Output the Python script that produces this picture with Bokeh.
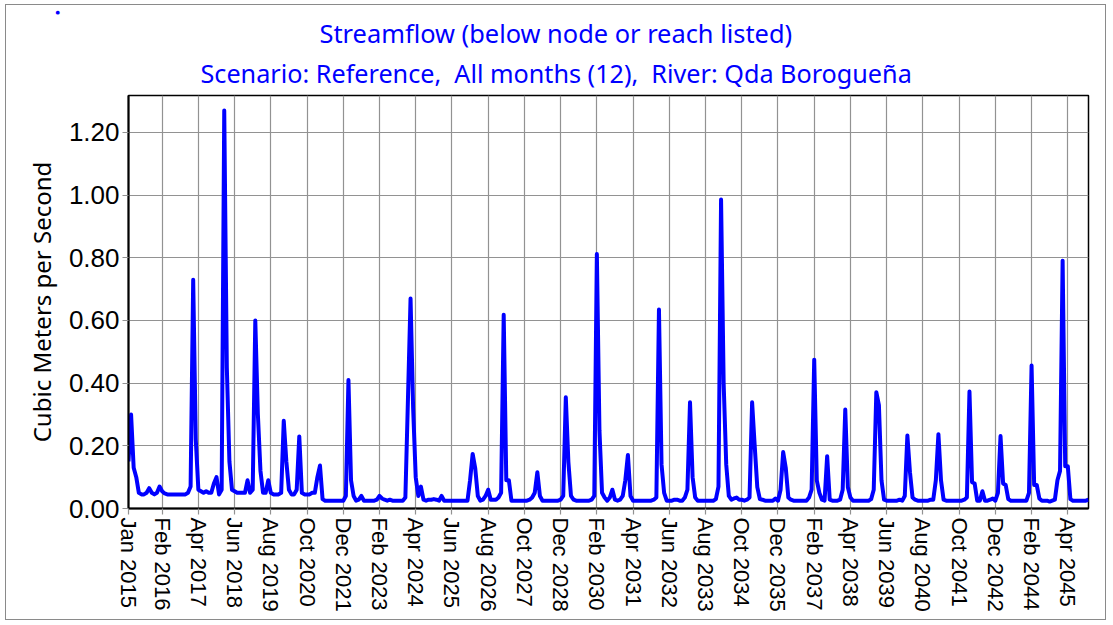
from bokeh.plotting import figure
from bokeh.models import Range1d, FixedTicker, NumeralTickFormatter, Title, ColumnDataSource
from bokeh.embed import file_html
from bokeh.resources import INLINE

# ---------------- data ----------------
start_year = 2015
title_line1 = "Streamflow (below node or reach listed)"
title_line2 = "Scenario: Reference,\u00a0 All months (12),\u00a0 River: Qda Borogueña"
y_label = "Cubic Meters per Second"

tick_labels = ["Jan 2015", "Feb 2016", "Apr 2017", "Jun 2018", "Aug 2019", "Oct 2020",
               "Dec 2021", "Feb 2023", "Apr 2024", "Jun 2025", "Aug 2026", "Oct 2027",
               "Dec 2028", "Feb 2030", "Apr 2031", "Jun 2032", "Aug 2033", "Oct 2034",
               "Dec 2035", "Feb 2037", "Apr 2038", "Jun 2039", "Aug 2040", "Oct 2041",
               "Dec 2042", "Feb 2044", "Apr 2045"]
y_ticks = [0.0, 0.2, 0.4, 0.6, 0.8, 1.0, 1.2]

# monthly streamflow, Jan 2015 .. Dec 2024
flow_2015_2024 = [
    0.15, 0.30, 0.13, 0.10, 0.05, 0.045, 0.045, 0.05, 0.065, 0.05, 0.045, 0.05,
    0.07, 0.055, 0.048, 0.045, 0.045, 0.045, 0.045, 0.045, 0.045, 0.045, 0.045, 0.05,
    0.07, 0.73, 0.22, 0.06, 0.055, 0.05, 0.055, 0.05, 0.05, 0.08, 0.10, 0.045,
    0.06, 1.27, 0.45, 0.15, 0.06, 0.055, 0.05, 0.05, 0.05, 0.05, 0.09, 0.05,
    0.06, 0.60, 0.30, 0.12, 0.05, 0.05, 0.09, 0.05, 0.045, 0.045, 0.045, 0.05,
    0.28, 0.15, 0.06, 0.045, 0.045, 0.06, 0.23, 0.05, 0.045, 0.045, 0.045, 0.05,
    0.05, 0.10, 0.137, 0.03, 0.025, 0.025, 0.025, 0.025, 0.025, 0.025, 0.025, 0.025,
    0.04, 0.41, 0.09, 0.04, 0.025, 0.028, 0.04, 0.025, 0.025, 0.025, 0.025, 0.025,
    0.028, 0.04, 0.032, 0.028, 0.025, 0.028, 0.025, 0.025, 0.025, 0.025, 0.025, 0.035,
    0.35, 0.67, 0.32, 0.10, 0.04, 0.07, 0.028, 0.025, 0.028, 0.028, 0.03, 0.028,
]
# monthly streamflow, Jan 2025 .. Dec 2034
flow_2025_2034 = [
    0.025, 0.04, 0.025, 0.025, 0.025, 0.025, 0.025, 0.025, 0.025, 0.025, 0.025, 0.025,
    0.09, 0.174, 0.128, 0.04, 0.025, 0.028, 0.04, 0.06, 0.028, 0.028, 0.028, 0.035,
    0.05, 0.618, 0.09, 0.09, 0.025, 0.025, 0.025, 0.025, 0.025, 0.025, 0.025, 0.028,
    0.035, 0.05, 0.116, 0.04, 0.025, 0.025, 0.025, 0.025, 0.025, 0.025, 0.025, 0.028,
    0.04, 0.355, 0.148, 0.04, 0.028, 0.025, 0.025, 0.025, 0.025, 0.025, 0.025, 0.028,
    0.04, 0.812, 0.25, 0.05, 0.035, 0.025, 0.035, 0.06, 0.028, 0.025, 0.028, 0.04,
    0.09, 0.171, 0.04, 0.025, 0.025, 0.025, 0.025, 0.025, 0.025, 0.025, 0.025, 0.028,
    0.035, 0.635, 0.14, 0.05, 0.025, 0.025, 0.025, 0.028, 0.028, 0.025, 0.025, 0.035,
    0.06, 0.339, 0.10, 0.035, 0.025, 0.025, 0.025, 0.025, 0.025, 0.025, 0.025, 0.03,
    0.07, 0.986, 0.40, 0.14, 0.04, 0.028, 0.032, 0.035, 0.028, 0.028, 0.025, 0.028,
]
# monthly streamflow, Jan 2035 .. Dec 2045
flow_2035_2045 = [
    0.035, 0.339, 0.20, 0.068, 0.03, 0.028, 0.025, 0.025, 0.025, 0.025, 0.032, 0.025,
    0.06, 0.18, 0.13, 0.035, 0.028, 0.025, 0.025, 0.025, 0.025, 0.025, 0.025, 0.035,
    0.06, 0.475, 0.09, 0.05, 0.028, 0.025, 0.167, 0.028, 0.025, 0.025, 0.025, 0.028,
    0.06, 0.316, 0.068, 0.035, 0.025, 0.025, 0.025, 0.025, 0.025, 0.025, 0.025, 0.03,
    0.06, 0.371, 0.33, 0.09, 0.028, 0.025, 0.025, 0.025, 0.025, 0.025, 0.028, 0.025,
    0.04, 0.233, 0.116, 0.035, 0.028, 0.025, 0.025, 0.025, 0.025, 0.025, 0.028, 0.028,
    0.09, 0.237, 0.09, 0.028, 0.025, 0.025, 0.025, 0.025, 0.025, 0.025, 0.025, 0.028,
    0.035, 0.373, 0.084, 0.08, 0.025, 0.025, 0.055, 0.025, 0.025, 0.028, 0.032, 0.025,
    0.05, 0.231, 0.08, 0.075, 0.03, 0.025, 0.025, 0.025, 0.025, 0.025, 0.025, 0.025,
    0.05, 0.456, 0.075, 0.075, 0.032, 0.025, 0.025, 0.025, 0.022, 0.025, 0.028, 0.09,
    0.12, 0.791, 0.135, 0.135, 0.03, 0.025, 0.025, 0.025, 0.025, 0.025, 0.025, 0.028,
]

# ---------------- build ----------------
flow = flow_2015_2024 + flow_2025_2034 + flow_2035_2045
months = list(range(len(flow)))
src = ColumnDataSource(dict(m=months, q=flow))

month_abbr = ["Jan", "Feb", "Mar", "Apr", "May", "Jun", "Jul", "Aug", "Sep", "Oct", "Nov", "Dec"]
tick_pos = []
for lab in tick_labels:
    mon, yr = lab.split()
    tick_pos.append((int(yr) - start_year) * 12 + month_abbr.index(mon))

W, H = 1101, 616
p = figure(width=W, height=H, output_backend="svg", toolbar_location=None, title=None,
           x_range=Range1d(0, len(flow) - 1), y_range=Range1d(0, 1.318),
           min_border_left=122, min_border_right=19, min_border_top=90, min_border_bottom=113)
p.styles = {"margin-left": "5px", "margin-top": "4px", "border": "1px solid #8a8a8a"}
p.background_fill_color = "white"
p.border_fill_color = "white"
p.outline_line_color = "black"
p.outline_line_width = 1.5

p.line("m", "q", source=src, line_color="#0000FF", line_width=4, line_join="round")

grid_col = "#929292"
p.xgrid.ticker = FixedTicker(ticks=tick_pos)
p.ygrid.ticker = FixedTicker(ticks=y_ticks)
for g in (p.xgrid, p.ygrid):
    g.grid_line_color = grid_col
    g.grid_line_width = 1.2

xa = p.xaxis[0]
xa.ticker = FixedTicker(ticks=tick_pos)
xa.major_label_overrides = {t: l for t, l in zip(tick_pos, tick_labels)}
xa.major_label_orientation = "vertical"
xa.major_label_text_font = "Liberation Sans"
xa.major_label_text_font_size = "22px"
xa.major_label_text_color = "black"
xa.major_label_standoff = 3
xa.minor_tick_line_color = None
xa.major_tick_in = 0
xa.major_tick_out = 6
xa.major_tick_line_color = grid_col
xa.major_tick_line_width = 1.2
xa.axis_line_color = "black"
xa.axis_line_width = 2

ya = p.yaxis[0]
ya.ticker = FixedTicker(ticks=y_ticks)
ya.formatter = NumeralTickFormatter(format="0.00")
ya.major_label_text_font = "Liberation Sans"
ya.major_label_text_font_size = "26px"
ya.major_label_text_color = "black"
ya.major_label_standoff = 3
ya.minor_tick_line_color = None
ya.major_tick_in = 0
ya.major_tick_out = 6
ya.major_tick_line_color = grid_col
ya.major_tick_line_width = 1.2
ya.axis_line_color = "black"
ya.axis_line_width = 2
ya.axis_label = y_label
ya.axis_label_text_font = "Noto Sans"
ya.axis_label_text_font_style = "normal"
ya.axis_label_text_font_size = "24px"
ya.axis_label_text_color = "black"
ya.axis_label_standoff = 8

# titles: first added sits nearest the plot frame; offsets are from the frame's left edge
for txt, off, so, fs in ((title_line2, 72, 11, "25.2px"), (title_line1, 191, -2, "25.4px")):
    p.add_layout(Title(text=txt, align="left", offset=off, standoff=so,
                       text_font="Noto Sans", text_font_size=fs,
                       text_font_style="normal", text_color="#0000FF"), "above")
p.add_layout(Title(text="●", align="left", offset=-73, standoff=0,
                   text_font="DejaVu Sans", text_font_size="5px",
                   text_font_style="normal", text_color="#0000FF"), "above")

open("out.html", "w").write(file_html(p, INLINE))
